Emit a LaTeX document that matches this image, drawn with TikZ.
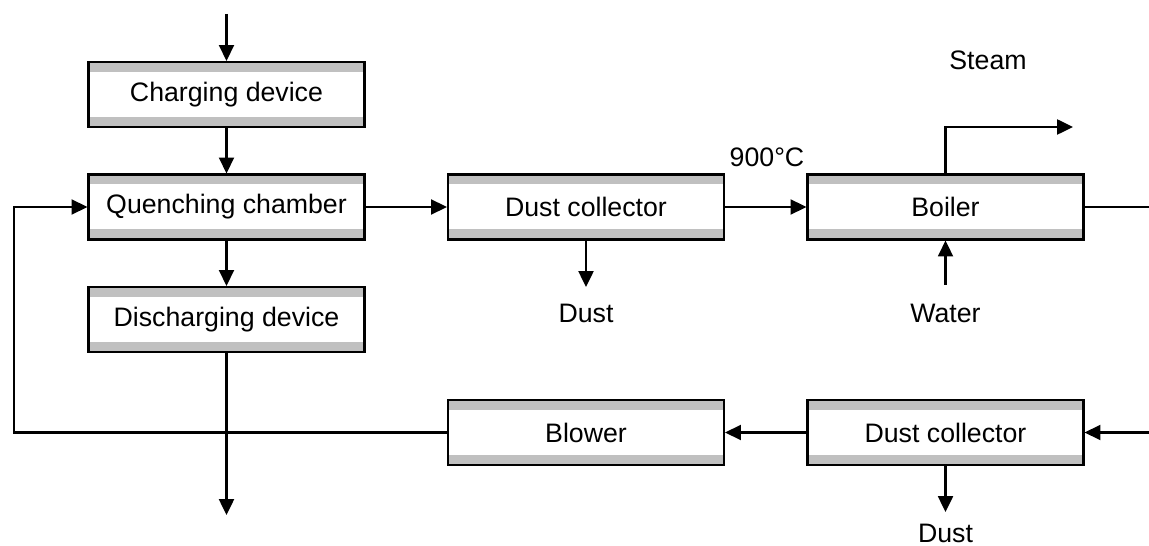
\documentclass[tikz,border=0pt]{standalone}
\usepackage{fontspec}
\setmainfont{Liberation Sans}
\usetikzlibrary{arrows.meta}
\definecolor{bargray}{HTML}{C0C0C0}
\tikzset{
  unit/.style={draw, line width=1.2pt, minimum width=5.52cm, minimum height=1.3cm,
    inner sep=0pt, font=\fontsize{15.2}{18}\selectfont,
    path picture={
      \fill[bargray] (path picture bounding box.north west) rectangle ([yshift=-0.2cm]path picture bounding box.north east);
      \fill[bargray] (path picture bounding box.south west) rectangle ([yshift=0.2cm]path picture bounding box.south east);
    }},
  lbl/.style={font=\fontsize{15.2}{18}\selectfont, inner sep=0pt},
  flow/.style={line width=1.2pt, -{Triangle[length=9pt,width=8.5pt]}},
  pipe/.style={line width=1.2pt}
}
\begin{document}
\begin{tikzpicture}
\useasboundingbox (0,0) rectangle (22.98,-10.92);

% units
\node[unit] (charge) at (4.53,-1.89) {Charging device};
\node[unit] (quench) at (4.53,-4.14) {Quenching chamber};
\node[unit] (discharge) at (4.53,-6.39) {Discharging device};
\node[unit] (dustA) at (11.72,-4.14) {Dust collector};
\node[unit] (boiler) at (18.91,-4.14) {Boiler};
\node[unit] (blower) at (11.72,-8.65) {Blower};
\node[unit] (dustB) at (18.91,-8.65) {Dust collector};

% labels
\node[lbl] (steam) at (19.76,-1.2) {Steam};
\node[lbl] (temp) at (15.34,-3.14) {900\textdegree C};
\node[lbl] (dustoutA) at (11.72,-6.26) {Dust};
\node[lbl] (water) at (18.91,-6.26) {Water};
\node[lbl] (dustoutB) at (18.91,-10.66) {Dust};

% free ends
\coordinate (feed) at (4.53,-0.28);
\coordinate (coke) at (4.53,-10.3);
\coordinate (loop) at (0.28,-8.65);
\coordinate (gasout) at (22.98,-4.14);
\coordinate (gasin) at (22.98,-8.65);
\coordinate (steamout) at (21.46,-2.54);
\coordinate (dustendA) at (11.72,-5.74);
\coordinate (waterin) at (18.91,-5.7);
\coordinate (dustendB) at (18.91,-10.24);

% flows
\draw[flow] (feed) -- (charge);
\draw[flow] (charge) -- (quench);
\draw[flow] (quench) -- (discharge);
\draw[flow] (discharge) -- (coke);
\draw[flow] (quench) -- (dustA);
\draw[flow] (dustA) -- (boiler);
\draw[flow] (dustA) -- (dustendA);
\draw[flow] (waterin) -- (boiler);
\draw[flow] (boiler.north) |- (steamout);
\draw[pipe] (boiler) -- (gasout);
\draw[flow] (gasin) -- (dustB);
\draw[flow] (dustB) -- (blower);
\draw[flow] (dustB) -- (dustendB);
\draw[flow] (blower.west) -- (loop) |- (quench.west);
\end{tikzpicture}
\end{document}
